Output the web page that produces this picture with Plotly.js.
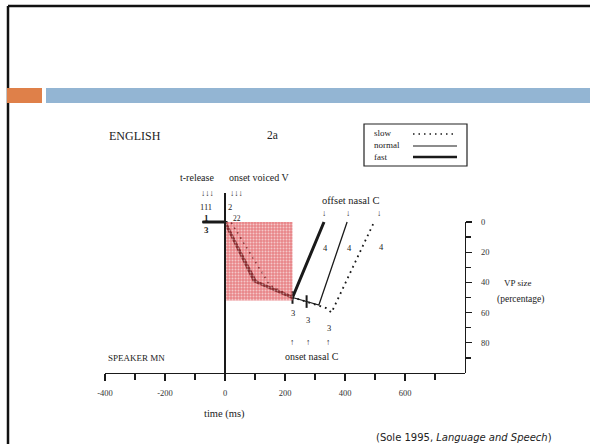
<!DOCTYPE html>
<html>
<head>
<meta charset="utf-8">
<script src="https://cdn.plot.ly/plotly-3.0.1.min.js"></script>
<style>html,body{margin:0;padding:0;background:#fff;}#chart{width:590px;height:444px;}</style>
</head>
<body>
<div id="chart"></div>
<script>
// ---- data (time in ms, VP size in %) ----
const seriesNames = ["slow", "normal", "fast"];
const slowX   = [-75, 20, 150, 228, 337, 355, 497];
const slowY   = [0, 0, 42, 50, 57, 60, 0];
const normalX = [-75, 0, 107, 225, 313, 407];
const normalY = [0, 0, 40, 50, 55, 0];
const fastX   = [-75, 0, 97, 225, 330];
const fastY   = [0, 0, 39, 50, 0];
const onsetNasalX = [225, 272];
const onsetNasalY = [50, 52.7];
const shadeX = [0, 225];
const shadeY = [0, 52];
const xTickVals = [-400, -200, 0, 200, 400, 600];
const xTickText = ["-400", "-200", "0", "200", "400", "600"];
const yTickVals = [0, 20, 40, 60, 80];
const yTickText = ["0", "20", "40", "60", "80"];

const W = 590, H = 444;
const px = v => v / W;
const py = v => 1 - v / H;
const ink = "#1a1a1a";
const serif = "Liberation Serif";

const traces = [
  {x: slowX, y: slowY, mode: "lines", line: {color: ink, width: 1.8, dash: "1.8px,4px"}, name: "slow", showlegend: false, hoverinfo: "skip"},
  {x: normalX, y: normalY, mode: "lines", line: {color: ink, width: 1.3}, name: "normal", showlegend: false, hoverinfo: "skip"},
  {x: fastX, y: fastY, mode: "lines", line: {color: ink, width: 3}, name: "fast", showlegend: false, hoverinfo: "skip"},
  {x: onsetNasalX, y: onsetNasalY, mode: "markers", marker: {symbol: "line-ns-open", size: 9, color: ink, line: {color: ink, width: 2}}, showlegend: false, hoverinfo: "skip"},
  {x: [shadeX[0], shadeX[1], shadeX[1], shadeX[0], shadeX[0]],
   y: [shadeY[0], shadeY[0], shadeY[1], shadeY[1], shadeY[0]],
   mode: "lines", line: {width: 0}, fill: "toself",
   fillcolor: "rgba(215,45,50,0.55)",
   fillpattern: {shape: ".", fgcolor: "rgba(255,255,255,0.55)", bgcolor: "rgba(215,45,50,0.58)", size: 3, solidity: 0.35},
   showlegend: false, hoverinfo: "skip"},
  {x: [null], y: [null], yaxis: "y2", showlegend: false, hoverinfo: "skip"}
];

function ann(text, x, y, size, opts) {
  return Object.assign({text: text, x: px(x), y: py(y), xref: "paper", yref: "paper",
    showarrow: false, xanchor: "center", yanchor: "middle",
    font: {family: serif, size: size, color: "#222"}}, opts || {});
}

const annotations = [
  ann("ENGLISH", 135, 136, 12),
  ann("2a", 272, 135, 11.5),
  ann("slow", 372, 133, 9, {xanchor: "left"}),
  ann("normal", 372, 145, 9, {xanchor: "left"}),
  ann("fast", 372, 157, 9, {xanchor: "left"}),
  ann("t-release", 197, 177, 10),
  ann("onset voiced V", 259, 177, 10),
  ann("↓↓↓", 207, 193, 8.5),
  ann("↓↓↓", 236, 193, 8.5),
  ann("111", 206, 207, 8.5),
  ann("2", 230, 207, 8.5),
  ann("22", 237, 219, 7.5),
  ann("<b>1</b>", 206, 218, 9),
  ann("<b>3</b>", 206, 230, 9),
  ann("offset nasal C", 351, 200, 10.5),
  ann("↓", 324, 213, 8.5),
  ann("↓", 348, 213, 8.5),
  ann("↓", 379, 213, 8.5),
  ann("4", 326, 248, 8.5),
  ann("4", 349, 248, 8.5),
  ann("4", 381, 247, 8.5),
  ann("3", 293, 313, 8.5),
  ann("3", 308, 320, 8.5),
  ann("3", 329, 328, 8.5),
  ann("↑", 292, 342, 8.5),
  ann("↑", 308, 342, 8.5),
  ann("↑", 328, 342, 8.5),
  ann("onset nasal C", 312, 356, 10),
  ann("SPEAKER MN", 136, 358, 9),
  ann("time (ms)", 224, 414, 10.5),
  ann("VP size", 517, 283, 9),
  ann("(percentage)", 520, 299, 9.5),
  ann("(Sole 1995, <i>Language and Speech</i>)", 464, 437, 10,
      {font: {family: "DejaVu Sans", size: 10, color: "#222"}})
];

const shapes = [
  // slide frame
  {type: "line", xref: "paper", yref: "paper", x0: px(8), x1: 1, y0: py(6), y1: py(6), line: {color: "#111", width: 2.5}},
  {type: "line", xref: "paper", yref: "paper", x0: px(8), x1: px(8), y0: py(6), y1: 0, line: {color: "#111", width: 2.5}},
  {type: "rect", xref: "paper", yref: "paper", x0: px(7), x1: px(42), y0: py(103), y1: py(88), fillcolor: "#df8049", line: {width: 0}},
  {type: "rect", xref: "paper", yref: "paper", x0: px(46), x1: 1, y0: py(103), y1: py(88), fillcolor: "#93b5d3", line: {width: 0}},
  // legend box
  {type: "rect", xref: "paper", yref: "paper", x0: px(364), x1: px(467), y0: py(166), y1: py(124), fillcolor: "rgba(0,0,0,0)", line: {color: "#222", width: 1.2}},
  {type: "line", xref: "paper", yref: "paper", x0: px(413), x1: px(457), y0: py(134), y1: py(134), line: {color: ink, width: 1.4, dash: "1.5px,4px"}},
  {type: "line", xref: "paper", yref: "paper", x0: px(413), x1: px(457), y0: py(146), y1: py(146), line: {color: ink, width: 1.2}},
  {type: "line", xref: "paper", yref: "paper", x0: px(413), x1: px(457), y0: py(157), y1: py(157), line: {color: ink, width: 2.4}}
];

const layout = {
  width: W, height: H,
  margin: {l: 0, r: 0, t: 0, b: 0},
  paper_bgcolor: "#fff", plot_bgcolor: "rgba(0,0,0,0)",
  showlegend: false,
  xaxis: {
    domain: [px(105), px(465)], range: [-400, 800], anchor: "y",
    showgrid: false, zeroline: true, zerolinecolor: ink, zerolinewidth: 1.2,
    showline: true, linecolor: ink, linewidth: 1.3,
    ticks: "outside", ticklen: 7, tickwidth: 1.3, tickcolor: ink,
    tickvals: xTickVals, ticktext: xTickText,
    minor: {tickvals: [-300, -100, 100, 300, 500, 700], ticks: "outside", ticklen: 6, tickwidth: 1.3, tickcolor: ink},
    tickfont: {family: serif, size: 8.5, color: "#333"}, ticklabelstandoff: 4,
    fixedrange: true
  },
  yaxis: {
    domain: [py(373), py(193)], range: [100, -19.2], visible: false, fixedrange: true
  },
  yaxis2: {
    domain: [py(373), py(222)], range: [100, 0], anchor: "x", side: "right",
    showgrid: false, zeroline: false,
    showline: true, linecolor: ink, linewidth: 1.3,
    ticks: "outside", ticklen: 6, tickwidth: 1.3, tickcolor: ink,
    tickvals: yTickVals, ticktext: yTickText,
    minor: {tickvals: [10, 30, 50, 70, 90], ticks: "outside", ticklen: 5, tickwidth: 1.3, tickcolor: ink},
    tickfont: {family: serif, size: 8.5, color: "#333"}, ticklabelstandoff: 7,
    fixedrange: true
  },
  shapes: shapes,
  annotations: annotations
};

Plotly.newPlot("chart", traces, layout, {displayModeBar: false, staticPlot: true});
</script>
</body>
</html>
